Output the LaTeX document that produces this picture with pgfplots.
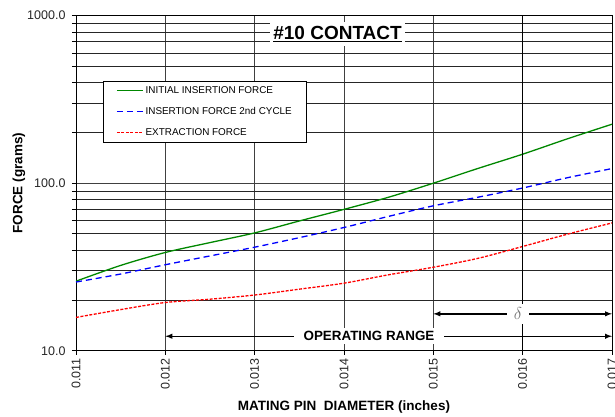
\documentclass[border=0pt]{standalone}
\usepackage{pgfplots}
\pgfplotsset{compat=1.18}
\usepackage{fontspec}
\setmainfont{Liberation Sans}
\definecolor{cgreen}{RGB}{0,135,0}
\begin{document}
\begin{tikzpicture}
\begin{axis}[
  scale only axis, width=536pt, height=335pt,
  at={(0,0)}, anchor=south west,
  xmin=0.011, xmax=0.017, ymode=log, ymin=10, ymax=1000,
  scaled x ticks=false,
  xtick={0.011,0.012,0.013,0.014,0.015,0.016,0.017},
  xticklabels={0.011,0.012,0.013,0.014,0.015,0.016,0.017},
  ytick={10,100,1000}, yticklabels={10.0,100.0,1000.0},
  minor ytick={20,30,40,50,60,70,80,90,200,300,400,500,600,700,800,900},
  /pgf/number format/assume math mode=true,
  grid=both,
  major grid style={black!75, line width=0.6pt},
  minor grid style={black!85, line width=0.6pt},
  tick align=outside, xtick pos=left, ytick pos=left,
  major tick length=4pt, minor tick length=4pt,
  tick style={black, line width=0.6pt},
  axis line style={black, line width=0.8pt},
  ticklabel style={font=\fontsize{12.5}{14}\selectfont, text=black!85},
  xticklabel style={rotate=90, anchor=east},
  yticklabel style={xshift=-3pt},
  xlabel={MATING PIN\ \ DIAMETER (inches)},
  ylabel={FORCE (grams)},
  label style={font=\fontsize{13.5}{15}\selectfont\bfseries},
  xlabel style={at={(axis description cs:0.5,-0.1672)}, anchor=center},
  ylabel style={at={(axis description cs:-0.1063,0.5)}, anchor=center},
  legend style={draw=black, fill=white, line width=0.6pt,
    at={(rel axis cs:0.0504,0.805)}, anchor=north west,
    inner xsep=13pt, inner ysep=3pt, row sep=8.5pt,
    font=\fontsize{9.9}{11}\selectfont, cells={anchor=west}},
  legend image code/.code={\draw[#1] (0pt,0pt) -- (26pt,0pt);},
  legend cell align=left,
]
\addplot[cgreen, line width=1.3pt, smooth] coordinates {
 (0.011,26) (0.0115,32.3) (0.012,38.6) (0.0125,44.2) (0.013,50.5) (0.0135,59.5)
 (0.014,69.8) (0.0145,82.5) (0.015,100) (0.0155,122.5) (0.016,149) (0.0165,184) (0.017,225)};
\addlegendentry{INITIAL INSERTION FORCE}
\addplot[blue, line width=1.3pt, dash pattern=on 6pt off 4pt, smooth] coordinates {
 (0.011,25.7) (0.0115,28.7) (0.012,32.6) (0.0125,36.8) (0.013,41.5) (0.0135,47.3)
 (0.014,54.4) (0.0145,63.4) (0.015,73.3) (0.0155,82.5) (0.016,93.6) (0.0165,107.8) (0.017,122.3)};
\addlegendentry{INSERTION FORCE 2nd CYCLE}
\addplot[red, line width=1.3pt, dash pattern=on 3pt off 1.5pt, smooth] coordinates {
 (0.011,15.8) (0.0115,17.6) (0.012,19.4) (0.0125,20.3) (0.013,21.5) (0.0135,23.3)
 (0.014,25.3) (0.0145,28.4) (0.015,31.5) (0.0155,35.6) (0.016,41.9) (0.0165,49.6) (0.017,57.9)};
\addlegendentry{EXTRACTION FORCE}
\draw[black, line width=1.3pt] (axis cs:0.016,10) -- (axis cs:0.016,1000);
\draw[black, line width=1.4pt, latex-latex] (axis cs:0.012,12.2) -- (axis cs:0.017,12.2);
\node[fill=white, inner xsep=10pt, inner ysep=3pt, font=\fontsize{13.4}{15}\selectfont\bfseries]
  at (axis cs:0.01428,12.2) {OPERATING RANGE};
\draw[black, line width=1.4pt, latex-latex] (axis cs:0.015,16.6) -- (axis cs:0.017,16.6);
\node[fill=white, inner xsep=7pt, inner ysep=4pt, text=black!55, font=\fontsize{19}{20}\selectfont]
  at (axis cs:0.015948,16.6) {$\delta$};
\node[fill=white, inner xsep=3.5pt, inner ysep=4pt, font=\fontsize{19}{21}\selectfont\bfseries]
  at (rel axis cs:0.488,0.945) {\underline{\#10 CONTACT}};
\end{axis}
\pgfresetboundingbox
\useasboundingbox (-76pt,-65.3pt) rectangle (539pt,350.7pt);
\end{tikzpicture}
\end{document}
